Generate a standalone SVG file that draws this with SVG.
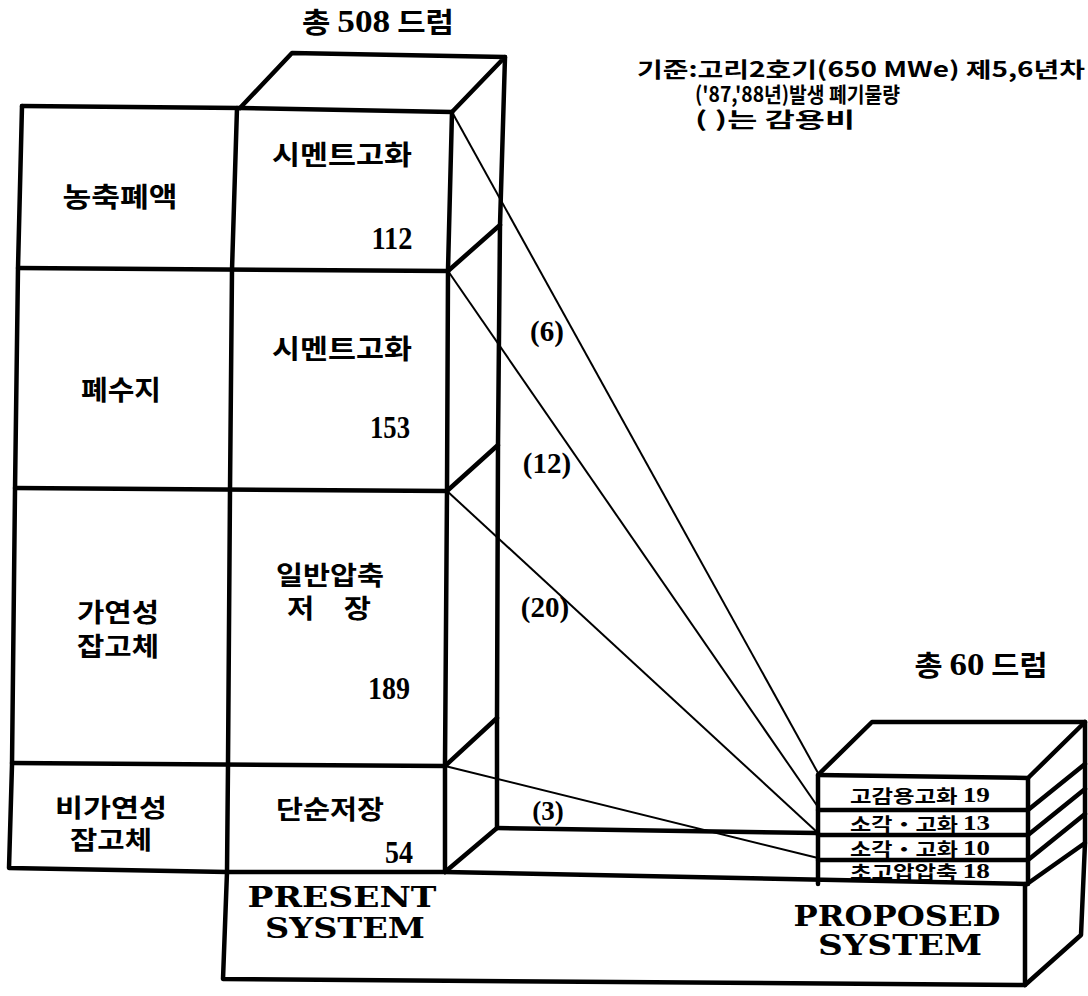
<svg xmlns="http://www.w3.org/2000/svg" width="1088" height="996" viewBox="0 0 1088 996">
<style>
.thick{stroke:#000;stroke-width:4.5;fill:none;stroke-linejoin:round;stroke-linecap:round}
.thin{stroke:#000;stroke-width:2;fill:none}
.kr{font-family:"Noto Sans CJK KR","Noto Sans",sans-serif;font-weight:bold;fill:#000}
.num{font-family:"Liberation Serif","Noto Sans CJK KR",serif;font-weight:bold;fill:#000}
.sys{font-family:"DejaVu Serif","Liberation Serif",serif;font-weight:bold;fill:#000}
text{text-anchor:middle;dominant-baseline:central}
.st{text-anchor:start}
</style>
<rect width="1088" height="996" fill="#fff"/>

<g id="present-stack">
  <polyline class="thick" points="22,106 18,268 15,490 12,765 9,868 227,872 445,872"/>
  <polyline class="thick" points="22,106 240,108 452,112"/>
  <polyline class="thick" points="240,108 292,53 505,57 452,112"/>
  <polyline class="thick" points="237,108 232,270 230,490 228,765 227,872"/>
  <polyline class="thick" points="452,112 448,270 447,490 445,765 445,872"/>
  <polyline class="thick" points="505,57 500,225 498,445 497,718 497,828"/>
  <line class="thick" x1="18" y1="268" x2="448" y2="271"/>
  <line class="thick" x1="15" y1="488" x2="447" y2="491"/>
  <line class="thick" x1="12" y1="763" x2="445" y2="766"/>
  <line class="thick" x1="448" y1="271" x2="500" y2="225"/>
  <line class="thick" x1="447" y1="491" x2="498" y2="445"/>
  <line class="thick" x1="445" y1="766" x2="497" y2="718"/>
  <line class="thick" x1="445" y1="872" x2="497" y2="828"/>
</g>

<g id="base">
  <polyline class="thick" points="227,872 223,979 1025,985 1025,884"/>
  <line class="thick" x1="445" y1="872" x2="1027" y2="884"/>
  <line class="thick" x1="497" y1="828" x2="818" y2="833"/>
  <polyline class="thick" points="1025,985 1081,935 1085,843 1027,884"/>
</g>

<g id="proposed-stack">
  <polyline class="thick" points="818,884 818,775 872,722 1085,722 1085,843"/>
  <polyline class="thick" points="818,775 1028,778 1085,722"/>
  <line class="thick" x1="1028" y1="778" x2="1028" y2="884"/>
  <line class="thick" x1="818" y1="810" x2="1028" y2="810"/>
  <line class="thick" x1="818" y1="835" x2="1028" y2="835"/>
  <line class="thick" x1="818" y1="860" x2="1028" y2="860"/>
  <line class="thick" x1="1028" y1="810" x2="1085" y2="764"/>
  <line class="thick" x1="1028" y1="835" x2="1085" y2="789"/>
  <line class="thick" x1="1028" y1="860" x2="1085" y2="814"/>
</g>

<g id="connectors">
  <line class="thin" x1="452" y1="112" x2="818" y2="773"/>
  <line class="thin" x1="448" y1="271" x2="818" y2="807"/>
  <line class="thin" x1="447" y1="491" x2="818" y2="833"/>
  <line class="thin" x1="445" y1="766" x2="818" y2="858"/>
</g>

<g id="labels-present">
  <text class="kr" x="378" y="21" font-size="28" textLength="152" lengthAdjust="spacingAndGlyphs"><tspan>총 </tspan><tspan class="num" font-size="32">508</tspan><tspan> 드럼</tspan></text>
  <text class="kr" x="120" y="195" font-size="27" textLength="115" lengthAdjust="spacingAndGlyphs">농축폐액</text>
  <text class="kr" x="342" y="153" font-size="27" textLength="140" lengthAdjust="spacingAndGlyphs">시멘트고화</text>
  <text class="num" x="392" y="238" font-size="32" textLength="41" lengthAdjust="spacingAndGlyphs">112</text>
  <text class="kr" x="121" y="388" font-size="27" textLength="80" lengthAdjust="spacingAndGlyphs">폐수지</text>
  <text class="kr" x="342" y="347" font-size="27" textLength="140" lengthAdjust="spacingAndGlyphs">시멘트고화</text>
  <text class="num" x="390" y="427" font-size="32" textLength="40" lengthAdjust="spacingAndGlyphs">153</text>
  <text class="kr" x="118" y="610" font-size="26" textLength="82" lengthAdjust="spacingAndGlyphs">가연성</text>
  <text class="kr" x="118" y="644" font-size="26" textLength="82" lengthAdjust="spacingAndGlyphs">잡고체</text>
  <text class="kr" x="330" y="573" font-size="26" textLength="108" lengthAdjust="spacingAndGlyphs">일반압축</text>
  <text class="kr" x="329" y="606" font-size="26" textLength="84" lengthAdjust="spacingAndGlyphs">저　장</text>
  <text class="num" x="389" y="688" font-size="32" textLength="42" lengthAdjust="spacingAndGlyphs">189</text>
  <text class="kr" x="111" y="806" font-size="25" textLength="112" lengthAdjust="spacingAndGlyphs">비가연성</text>
  <text class="kr" x="111" y="838" font-size="25" textLength="82" lengthAdjust="spacingAndGlyphs">잡고체</text>
  <text class="kr" x="330" y="807" font-size="26" textLength="108" lengthAdjust="spacingAndGlyphs">단순저장</text>
  <text class="num" x="399" y="852" font-size="32" textLength="28" lengthAdjust="spacingAndGlyphs">54</text>
  <text class="sys" x="342" y="897" font-size="27" textLength="189" lengthAdjust="spacingAndGlyphs">PRESENT</text>
  <text class="sys" x="345" y="928" font-size="27" textLength="160" lengthAdjust="spacingAndGlyphs">SYSTEM</text>
</g>

<g id="labels-ratio">
  <text class="num" x="547" y="331" font-size="29">(6)</text>
  <text class="num" x="547" y="463" font-size="29">(12)</text>
  <text class="num" x="545" y="607" font-size="29">(20)</text>
  <text class="num" x="548" y="811" font-size="27">(3)</text>
</g>

<g id="labels-proposed">
  <text class="kr" x="981" y="664" font-size="28" textLength="133" lengthAdjust="spacingAndGlyphs"><tspan>총 </tspan><tspan class="num" font-size="32">60</tspan><tspan> 드럼</tspan></text>
  <text class="kr" x="920" y="795" font-size="18" textLength="140" lengthAdjust="spacingAndGlyphs">고감용고화 <tspan class="num" font-size="21">19</tspan></text>
  <text class="kr" x="920" y="823" font-size="18" textLength="140" lengthAdjust="spacingAndGlyphs">소각・고화 <tspan class="num" font-size="21">13</tspan></text>
  <text class="kr" x="920" y="848" font-size="18" textLength="140" lengthAdjust="spacingAndGlyphs">소각・고화 <tspan class="num" font-size="21">10</tspan></text>
  <text class="kr" x="920" y="871" font-size="18" textLength="140" lengthAdjust="spacingAndGlyphs">초고압압축 <tspan class="num" font-size="21">18</tspan></text>
  <text class="sys" x="897" y="916" font-size="27" textLength="207" lengthAdjust="spacingAndGlyphs">PROPOSED</text>
  <text class="sys" x="900" y="945" font-size="27" textLength="164" lengthAdjust="spacingAndGlyphs">SYSTEM</text>
</g>

<g id="note">
  <text class="kr st" x="637" y="68" font-size="21" textLength="448" lengthAdjust="spacingAndGlyphs">기준:고리2호기(650 MWe) 제5,6년차</text>
  <text class="kr st" x="695" y="93" font-size="21" textLength="205" lengthAdjust="spacingAndGlyphs">('87,'88년)발생 폐기물량</text>
  <text class="kr st" x="695" y="118" font-size="21" textLength="160" lengthAdjust="spacingAndGlyphs">( )는 감용비</text>
</g>
</svg>
